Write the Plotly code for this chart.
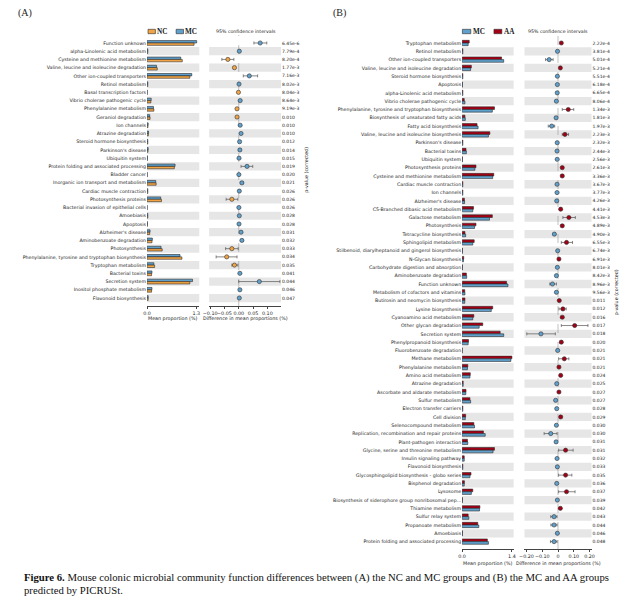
import plotly.graph_objects as go

# ---------------- Panel A data (NC vs MC) ----------------
labels_a = [
    "Function unknown", "alpha-Linolenic acid metabolism", "Cysteine and methionine metabolism",
    "Valine, leucine and isoleucine degradation", "Other ion-coupled transporters", "Retinol metabolism",
    "Basal transcription factors", "Vibrio cholerae pathogenic cycle", "Phenylalanine metabolism",
    "Geraniol degradation", "Ion channels", "Atrazine degradation", "Steroid hormone biosynthesis",
    "Parkinson's disease", "Ubiquitin system", "Protein folding and associated processing",
    "Bladder cancer", "Inorganic ion transport and metabolism", "Cardiac muscle contraction",
    "Photosynthesis proteins", "Bacterial invasion of epithelial cells", "Amoebiasis", "Apoptosis",
    "Alzheimer's disease", "Aminobenzoate degradation", "Photosynthesis",
    "Phenylalanine, tyrosine and tryptophan biosynthesis", "Tryptophan metabolism", "Bacterial toxins",
    "Secretion system", "Inositol phosphate metabolism", "Flavonoid biosynthesis",
]
nc_a = [1.24, 0.02, 0.93, 0.27, 1.13, 0.02, 0.005, 0.10, 0.18, 0.08, 0.025, 0.035, 0.02, 0.025, 0.01, 0.72,
        0.005, 0.24, 0.02, 0.38, 0.003, 0.02, 0.01, 0.07, 0.13, 0.40, 0.92, 0.20, 0.12, 1.13, 0.12, 0.03]
mc_a = [1.31, 0.02, 0.89, 0.25, 1.18, 0.02, 0.005, 0.11, 0.17, 0.07, 0.03, 0.04, 0.02, 0.03, 0.01, 0.74,
        0.005, 0.23, 0.02, 0.36, 0.003, 0.02, 0.01, 0.08, 0.14, 0.37, 0.87, 0.18, 0.13, 1.20, 0.13, 0.03]
diff_a = [0.075, 0.002, -0.038, -0.015, 0.037, 0.001, -0.001, 0.005, -0.006, -0.006, 0.005, 0.008, 0.003,
          0.004, 0.001, 0.029, 0.0005, 0.011, 0.002, -0.024, 0.0005, 0.002, 0.001, 0.008, 0.011, -0.024,
          -0.042, -0.015, 0.004, 0.072, 0.004, 0.002]
lo_a = [0.053, 0.000, -0.059, -0.019, 0.016, -0.001, -0.003, 0.002, -0.009, -0.009, 0.002, 0.004, 0.001,
        0.001, 0.000, 0.008, -0.001, 0.006, 0.000, -0.044, -0.001, 0.000, -0.001, 0.005, 0.007, -0.046,
        -0.079, -0.024, 0.002, 0.000, 0.002, 0.000]
hi_a = [0.098, 0.004, -0.017, -0.011, 0.066, 0.003, 0.001, 0.008, -0.003, -0.003, 0.008, 0.012, 0.005,
        0.007, 0.002, 0.049, 0.002, 0.016, 0.004, -0.003, 0.002, 0.004, 0.003, 0.011, 0.015, -0.002,
        -0.006, -0.003, 0.006, 0.144, 0.006, 0.004]
pvals_a = ["6.45e-6", "7.79e-4", "8.20e-4", "1.77e-3", "7.16e-3", "8.02e-3", "8.04e-3", "8.64e-3", "9.19e-3",
           "0.010", "0.010", "0.010", "0.012", "0.014", "0.015", "0.019", "0.020", "0.021", "0.026", "0.026",
           "0.026", "0.028", "0.028", "0.031", "0.032", "0.033", "0.034", "0.035", "0.041", "0.044", "0.046",
           "0.047"]

# ---------------- Panel B data (MC vs AA) ----------------
labels_b = [
    "Tryptophan metabolism", "Retinol metabolism", "Other ion-coupled transporters",
    "Valine, leucine and isoleucine degradation", "Steroid hormone biosynthesis", "Apoptosis",
    "alpha-Linolenic acid metabolism", "Vibrio cholerae pathogenic cycle",
    "Phenylalanine, tyrosine and tryptophan biosynthesis", "Biosynthesis of unsaturated fatty acids",
    "Fatty acid biosynthesis", "Valine, leucine and isoleucine biosynthesis", "Parkinson's disease",
    "Bacterial toxins", "Ubiquitin system", "Photosynthesis proteins", "Cysteine and methionine metabolism",
    "Cardiac muscle contraction", "Ion channels", "Alzheimer's disease", "C5-Branched dibasic acid metabolism",
    "Galactose metabolism", "Photosynthesis", "Tetracycline biosynthesis", "Sphingolipid metabolism",
    "Stilbenoid, diarylheptanoid and gingerol biosynthesis", "N-Glycan biosynthesis",
    "Carbohydrate digestion and absorption", "Aminobenzoate degradation", "Function unknown",
    "Metabolism of cofactors and vitamins", "Butirosin and neomycin biosynthesis", "Lysine biosynthesis",
    "Cyanoamino acid metabolism", "Other glycan degradation", "Secretion system", "Phenylpropanoid biosynthesis",
    "Fluorobenzoate degradation", "Methane metabolism", "Phenylalanine metabolism", "Amino acid metabolism",
    "Atrazine degradation", "Ascorbate and aldarate metabolism", "Sulfur metabolism", "Electron transfer carriers",
    "Cell division", "Selenocompound metabolism", "Replication, recombination and repair proteins",
    "Plant-pathogen interaction", "Glycine, serine and threonine metabolism", "Insulin signaling pathway",
    "Flavonoid biosynthesis", "Glycosphingolipid biosynthesis - globo series", "Bisphenol degradation",
    "Lysosome", "Biosynthesis of siderophore group nonribosomal pep...", "Thiamine metabolism",
    "Sulfur relay system", "Propanoate metabolism", "Amoebiasis", "Protein folding and associated processing",
]
aa_b = [0.20, 0.02, 1.11, 0.26, 0.02, 0.01, 0.02, 0.06, 0.91, 0.08, 0.42, 0.78, 0.02, 0.11, 0.01, 0.39,
        0.89, 0.02, 0.02, 0.065, 0.32, 0.85, 0.39, 0.08, 0.34, 0.01, 0.045, 0.01, 0.12, 1.25, 0.075, 0.08,
        0.86, 0.33, 0.58, 1.07, 0.18, 0.005, 1.40, 0.16, 0.23, 0.03, 0.11, 0.22, 0.02, 0.10, 0.33, 0.60,
        0.15, 0.91, 0.06, 0.02, 0.25, 0.065, 0.30, 0.01, 0.50, 0.17, 0.44, 0.01, 0.71]
mc_b = [0.17, 0.02, 1.17, 0.24, 0.02, 0.01, 0.02, 0.08, 0.85, 0.09, 0.45, 0.74, 0.02, 0.12, 0.01, 0.36,
        0.86, 0.02, 0.02, 0.07, 0.30, 0.77, 0.35, 0.10, 0.30, 0.01, 0.04, 0.01, 0.13, 1.29, 0.08, 0.075,
        0.82, 0.30, 0.48, 1.17, 0.17, 0.005, 1.37, 0.15, 0.22, 0.03, 0.105, 0.24, 0.02, 0.09, 0.35, 0.65,
        0.16, 0.87, 0.06, 0.02, 0.22, 0.06, 0.26, 0.01, 0.49, 0.19, 0.47, 0.01, 0.74]
diff_b = [0.021, -0.003, -0.056, 0.015, -0.004, -0.004, -0.005, -0.010, 0.065, -0.012, -0.040, 0.044, -0.005,
          -0.006, -0.005, 0.027, 0.027, -0.006, -0.006, -0.008, 0.017, 0.069, 0.027, -0.023, 0.054, -0.002,
          0.006, -0.004, -0.010, -0.035, -0.010, 0.008, 0.031, 0.027, 0.106, -0.108, 0.021, -0.002, 0.040,
          0.006, 0.017, -0.008, 0.006, -0.015, -0.008, 0.017, -0.010, -0.046, -0.012, 0.048, -0.006, -0.004,
          0.048, -0.008, 0.054, -0.004, 0.015, -0.025, -0.025, -0.004, -0.025]
lo_b = [0.015, -0.006, -0.079, 0.011, -0.007, -0.007, -0.008, -0.014, 0.027, -0.017, -0.062, 0.027, -0.008,
        -0.010, -0.008, 0.020, 0.019, -0.009, -0.009, -0.011, 0.012, 0.031, 0.019, -0.030, 0.021, -0.004,
        0.003, -0.007, -0.015, -0.052, -0.014, 0.004, 0.006, 0.019, 0.021, -0.198, 0.013, -0.004, 0.004,
        0.003, 0.012, -0.011, 0.003, -0.020, -0.011, 0.009, -0.014, -0.088, -0.017, 0.004, -0.009, -0.006,
        0.004, -0.011, 0.004, -0.006, 0.008, -0.046, -0.045, -0.006, -0.048]
hi_b = [0.027, -0.001, -0.031, 0.019, -0.001, -0.001, -0.002, -0.006, 0.100, -0.007, -0.021, 0.067, -0.002,
        -0.002, -0.002, 0.035, 0.036, -0.003, -0.003, -0.005, 0.022, 0.110, 0.036, -0.016, 0.092, 0.000,
        0.009, -0.001, -0.005, -0.010, -0.006, 0.012, 0.052, 0.036, 0.190, -0.017, 0.029, 0.000, 0.069,
        0.009, 0.022, -0.005, 0.009, -0.010, -0.005, 0.025, -0.006, -0.006, -0.007, 0.096, -0.003, -0.002,
        0.088, -0.005, 0.108, -0.002, 0.022, -0.006, -0.006, -0.002, -0.006]
pvals_b = ["2.22e-4", "3.81e-4", "5.01e-4", "5.21e-4", "5.51e-4", "6.18e-4", "6.65e-4", "8.06e-4", "1.34e-3",
           "1.81e-3", "1.97e-3", "2.23e-3", "2.32e-3", "2.44e-3", "2.56e-3", "2.61e-3", "3.36e-3", "3.67e-3",
           "3.77e-3", "4.26e-3", "4.41e-3", "4.53e-3", "4.89e-3", "4.90e-3", "6.55e-3", "6.74e-3", "6.91e-3",
           "8.01e-3", "8.42e-3", "8.96e-3", "9.56e-3", "0.011", "0.012", "0.016", "0.017", "0.018", "0.020",
           "0.021", "0.021", "0.021", "0.024", "0.025", "0.027", "0.027", "0.028", "0.029", "0.030", "0.030",
           "0.031", "0.031", "0.032", "0.033", "0.035", "0.036", "0.037", "0.039", "0.042", "0.043", "0.044",
           "0.046", "0.048"]

# ---------------- styling ----------------
# the page body has an 8px margin; the figure is sized to fit the window inside it
OFF = 8
W, H = 629 - OFF, 600 - OFF
C_NC = "#F2A444"
C_MC = "#5FA0CC"
C_AA = "#A30015"
EDGE = "#2a2a2a"
BAND = "#E6E6E6"
SANS = "DejaVu Sans"
SERIF = "Liberation Serif"


def px_x(p):
    return (p - OFF) / W


def px_y(p):
    return 1 - (p - OFF) / H


fig = go.Figure()

idx_a = list(range(len(labels_a)))
idx_b = list(range(len(labels_b)))
wa, wb = 0.29, 0.32

# Panel A bars
fig.add_trace(go.Bar(orientation="h", x=mc_a, y=idx_a, width=wa, offset=-wa, marker=dict(color=C_MC, line=dict(color=EDGE, width=0.6)),
                     xaxis="x", yaxis="y", showlegend=False))
fig.add_trace(go.Bar(orientation="h", x=nc_a, y=idx_a, width=wa, offset=0, marker=dict(color=C_NC, line=dict(color=EDGE, width=0.6)),
                     xaxis="x", yaxis="y", showlegend=False))
# Panel A CI
fig.add_trace(go.Scatter(
    x=diff_a, y=idx_a, mode="markers", xaxis="x2", yaxis="y2", showlegend=False,
    marker=dict(size=4.2, color=[C_MC if d >= 0 else C_NC for d in diff_a], line=dict(color="#333", width=0.6)),
    error_x=dict(type="data", symmetric=False,
                 array=[h - d for h, d in zip(hi_a, diff_a)],
                 arrayminus=[d - l for d, l in zip(diff_a, lo_a)],
                 color="#555", thickness=0.7, width=1.5)))

# Panel B bars
fig.add_trace(go.Bar(orientation="h", x=aa_b, y=idx_b, width=wb, offset=-wb, marker=dict(color=C_AA, line=dict(color=EDGE, width=0.6)),
                     xaxis="x3", yaxis="y3", showlegend=False))
fig.add_trace(go.Bar(orientation="h", x=mc_b, y=idx_b, width=wb, offset=0, marker=dict(color=C_MC, line=dict(color=EDGE, width=0.6)),
                     xaxis="x3", yaxis="y3", showlegend=False))
# Panel B CI
fig.add_trace(go.Scatter(
    x=diff_b, y=idx_b, mode="markers", xaxis="x4", yaxis="y4", showlegend=False,
    marker=dict(size=4.2, color=[C_AA if d >= 0 else C_MC for d in diff_b], line=dict(color="#333", width=0.6)),
    error_x=dict(type="data", symmetric=False,
                 array=[h - d for h, d in zip(hi_b, diff_b)],
                 arrayminus=[d - l for d, l in zip(diff_b, lo_b)],
                 color="#555", thickness=0.7, width=1.5)))

# ---------------- axes ----------------
tickfont = dict(family=SANS, size=4.8, color="#222")
xcommon = dict(showgrid=False, zeroline=False, showline=True, linecolor="#444", linewidth=0.6,
               ticks="outside", ticklen=2, tickwidth=0.6, tickcolor="#444", tickfont=tickfont, tickangle=0)
ycommon = dict(showgrid=False, zeroline=False, showline=False, ticks="", fixedrange=True)

ya_dom = [px_y(306), px_y(35)]
yb_dom = [px_y(549), px_y(35)]
ya_rng = [len(labels_a) - 1 + 0.97, -0.97]
yb_rng = [len(labels_b) - 1 + 0.89, -0.963]

fig.update_layout(
    xaxis=dict(domain=[px_x(143), px_x(196)], range=[0, 1.378], tickvals=[0, 1.3], ticktext=["0.0", "1.3"],
               anchor="y", **xcommon),
    yaxis=dict(domain=ya_dom, range=ya_rng, tickvals=idx_a, ticktext=labels_a, anchor="x",
               tickfont=dict(family=SANS, size=4.7, color="#222"), **ycommon),
    xaxis2=dict(domain=[px_x(206), px_x(279)], range=[-0.1035, 0.148],
                tickvals=[-0.10, -0.05, 0.0, 0.05, 0.10, 0.15],
                ticktext=["\u22120.10", "\u22120.05", "0.00", "0.05", "0.10", "0.15"], anchor="y2", **xcommon),
    yaxis2=dict(domain=ya_dom, range=ya_rng, tickvals=idx_a, ticktext=pvals_a, side="right", anchor="x2",
                tickfont=dict(family=SANS, size=4.5, color="#222"), **ycommon),
    xaxis3=dict(domain=[px_x(462.7), px_x(515)], range=[0, 1.449], tickvals=[0, 1.4], ticktext=["0.0", "1.4"],
                anchor="y3", **xcommon),
    yaxis3=dict(domain=yb_dom, range=yb_rng, tickvals=idx_b, ticktext=labels_b, anchor="x3",
                tickfont=dict(family=SANS, size=4.7, color="#222"), **ycommon),
    xaxis4=dict(domain=[px_x(526), px_x(594)], range=[-0.2125, 0.2125],
                tickvals=[-0.20, -0.10, 0.0, 0.10, 0.20],
                ticktext=["\u22120.20", "\u22120.10", "0", "0.10", "0.20"], anchor="y4", **xcommon),
    yaxis4=dict(domain=yb_dom, range=yb_rng, tickvals=idx_b, ticktext=pvals_b, side="right", anchor="x4",
                tickfont=dict(family=SANS, size=4.5, color="#222"), **ycommon),
)

# ---------------- shapes: bands, zero lines, legend swatches ----------------
shapes = []
for i in range(1, len(labels_a), 2):
    for xr, yr in (("x domain", "y"), ("x2 domain", "y2")):
        shapes.append(dict(type="rect", xref=xr, yref=yr, x0=0, x1=1, y0=i - 0.5, y1=i + 0.5,
                           fillcolor=BAND, line=dict(width=0), layer="below"))
for i in range(1, len(labels_b), 2):
    for xr, yr in (("x3 domain", "y3"), ("x4 domain", "y4")):
        shapes.append(dict(type="rect", xref=xr, yref=yr, x0=0, x1=1, y0=i - 0.5, y1=i + 0.5,
                           fillcolor=BAND, line=dict(width=0), layer="below"))
shapes.append(dict(type="line", xref="x2", yref="y2 domain", x0=0, x1=0, y0=0, y1=1.0,
                   line=dict(color="#999", width=0.6, dash="dash"), layer="below"))
shapes.append(dict(type="line", xref="x4", yref="y4 domain", x0=0, x1=0, y0=0, y1=1.0,
                   line=dict(color="#999", width=0.6, dash="dash"), layer="below"))


def swatch(x0, x1, yc, color):
    return dict(type="rect", xref="paper", yref="paper", x0=px_x(x0), x1=px_x(x1),
                y0=px_y(yc + 2.2), y1=px_y(yc - 2.2), fillcolor=color, line=dict(color=EDGE, width=0.6))


shapes += [swatch(144, 151.5, 31.5, C_NC), swatch(172.5, 180, 31.5, C_MC),
           swatch(463, 471.5, 31.5, C_MC), swatch(495, 503, 31.5, C_AA)]
fig.update_layout(shapes=shapes)

# ---------------- annotations ----------------
ann = []


def txt(x, y, s, size, family=SANS, xanchor="left", angle=0, color="#222"):
    ann.append(dict(x=px_x(x), y=px_y(y), xref="paper", yref="paper", text=s, showarrow=False,
                    xanchor=xanchor, yanchor="middle", textangle=angle, borderpad=0,
                    font=dict(family=family, size=size, color=color)))


txt(11, 13, "(A)", 10, SERIF)
txt(331, 13, "(B)", 10, SERIF)
txt(152, 31.5, "<b>NC</b>", 7.2, SERIF)
txt(180.8, 31.5, "<b>MC</b>", 7.2, SERIF)
txt(472.3, 31.5, "<b>MC</b>", 7.2, SERIF)
txt(503.8, 31.5, "<b>AA</b>", 7.2, SERIF)
txt(243, 31.5, "95% confidence intervals", 4.7, xanchor="center")
txt(560, 31.5, "95% confidence intervals", 4.7, xanchor="center")
txt(169.5, 318.5, "Mean proportion (%)", 4.8, xanchor="center")
txt(243, 318.5, "Difference in mean proportions (%)", 4.8, xanchor="center")
txt(488.8, 563, "Mean proportion (%)", 4.8, xanchor="center")
txt(560, 563, "Difference in mean proportions (%)", 4.8, xanchor="center")
txt(304, 170, "p-value (corrected)", 4.8, xanchor="center", angle=-90)
txt(619, 292, "p-value (corrected)", 4.8, xanchor="center", angle=-90)
txt(17, 577, "<b>Figure 6.</b> Mouse colonic microbial community function differences between (A) the NC and MC groups and (B) the MC and AA groups",
    10.7, SERIF, color="#111")
txt(17, 590, "predicted by PICRUSt.", 10.7, SERIF, color="#111")
fig.update_layout(annotations=ann)

fig.update_layout(width=W, height=H, autosize=False, margin=dict(l=0, r=0, t=0, b=0),
                  paper_bgcolor="white", plot_bgcolor="rgba(0,0,0,0)", barmode="overlay", showlegend=False)

fig.write_html("out.html", config={"displayModeBar": False})
